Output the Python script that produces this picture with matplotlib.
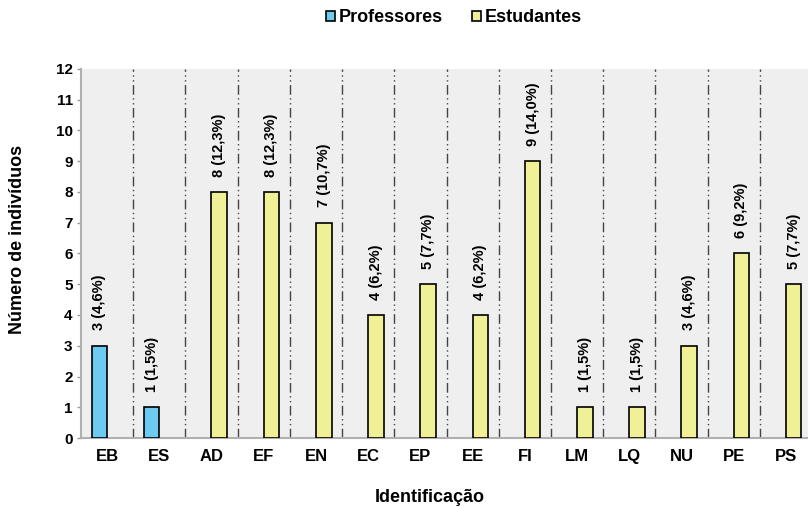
import matplotlib
matplotlib.use("Agg")
import matplotlib.pyplot as plt
import numpy as np

plt.rcParams['font.family'] = ['Liberation Sans', 'DejaVu Sans']
plt.rcParams['font.weight'] = 'bold'

# Data
categorias = ["EB", "ES", "AD", "EF", "EN", "EC", "EP", "EE", "FI", "LM", "LQ", "NU", "PE", "PS"]
professores = [3, 1, 0, 0, 0, 0, 0, 0, 0, 0, 0, 0, 0, 0]
estudantes = [0, 0, 8, 8, 7, 4, 5, 4, 9, 1, 1, 3, 6, 5]
percentuais = ["4,6", "1,5", "12,3", "12,3", "10,7", "6,2", "7,7", "6,2", "14,0", "1,5", "1,5", "4,6", "9,2", "7,7"]

cor_prof = "#6dcbf2"
cor_est = "#f0f096"

fig = plt.figure(figsize=(8.08, 5.07), dpi=100)
ax = fig.add_axes([81/808, 1-438/507, 731/808, 369/507])
ax.set_facecolor("#efefef")

x = np.arange(len(categorias))
larg = 0.3
desl = 0.148

prof = np.array(professores)
est = np.array(estudantes)
mp = prof > 0
me = est > 0
bp = ax.bar(x[mp] - desl, prof[mp], width=larg, color=cor_prof, edgecolor="black", linewidth=1.2,
            label="Professores", zorder=3)
be = ax.bar(x[me] + desl, est[me], width=larg, color=cor_est, edgecolor="black", linewidth=1.2,
            label="Estudantes", zorder=3)

# value labels above each bar
for i in range(len(categorias)):
    if prof[i] > 0:
        xi, v = x[i] - desl, prof[i]
    else:
        xi, v = x[i] + desl, est[i]
    ax.annotate(f"{v} ({percentuais[i]}%)", (xi, v), xytext=(0, 11), textcoords="offset points",
                rotation=90, ha="center", va="bottom", fontsize=10.5, fontweight="bold")

# dash-dot separators between categories
for b in np.arange(0.5, len(categorias), 1.0):
    ax.axvline(b, color="#444444", linewidth=1.0, dashes=(7, 2.5, 1, 2.5, 1, 2.5), zorder=2)

ax.set_xlim(-0.5, len(categorias) - 0.5)
ax.set_ylim(0, 12)
ax.set_yticks(range(0, 13))
ax.set_xticks(x)
ax.set_xticklabels(categorias, fontsize=12, fontweight="bold")
ax.tick_params(axis="x", length=0, pad=8)
ax.tick_params(axis="y", length=3, color="#999999", width=1, labelsize=11, pad=3)

for s in ["top", "right"]:
    ax.spines[s].set_visible(False)
for s in ["left", "bottom"]:
    ax.spines[s].set_color("#b0b0b0")
    ax.spines[s].set_linewidth(1.5)

fig.text(18/808, 1-239/507, "Número de indivíduos", rotation=90, ha="center", va="center",
         fontsize=13, fontweight="bold")
fig.text(430/808, 1-497/507, "Identificação", ha="center", va="center",
         fontsize=13, fontweight="bold")

fig.legend(handles=[bp, be], labels=["Professores", "Estudantes"], loc="center",
           bbox_to_anchor=(454/808, 1-18/507), ncol=2, frameon=False, fontsize=13,
           handlelength=0.5, handleheight=0.5, handletextpad=0.2, columnspacing=1.6)

fig.savefig("out.png", dpi=100)
